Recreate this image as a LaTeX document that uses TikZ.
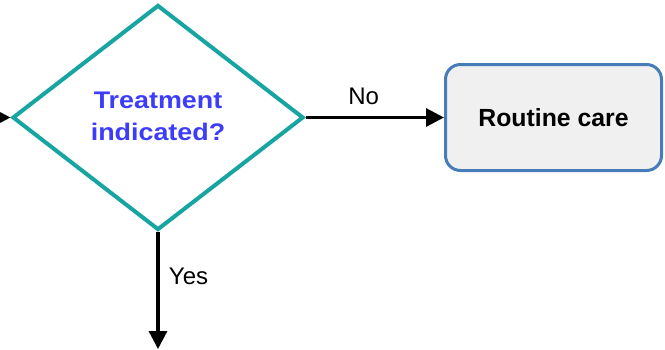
\documentclass[tikz,border=0pt]{standalone}
\usepackage{fontspec}
\setmainfont{Liberation Sans}
\usetikzlibrary{shapes.geometric,arrows.meta}
\definecolor{tealline}{RGB}{22,165,160}
\definecolor{boxline}{RGB}{70,125,185}
\definecolor{boxfill}{RGB}{240,240,240}
\definecolor{asktext}{RGB}{60,60,250}
\begin{document}
\begin{tikzpicture}[x=1pt,y=1pt,yscale=-1,xscale=1,
	decision/.style={diamond,draw=tealline,line width=4pt,inner sep=0pt,minimum width=291pt,minimum height=225pt},
	endbox/.style={draw=boxline,fill=boxfill,line width=3pt,rounded corners=15pt,minimum width=216pt,minimum height=106pt},
	flow/.style={line width=3.2pt,-{Triangle[length=18pt,width=18pt]}},
	flowlabel/.style={font=\fontsize{24}{28}\selectfont}]
	\useasboundingbox (0,0) rectangle (665,349);
	\node[decision] (decide) at (158,117.5) {};
	\node[align=center,text=asktext,font=\fontsize{24}{32}\selectfont\bfseries\addfontfeature{FakeStretch=1.12}] (ask) at (158,116.5) {Treatment\\indicated?};
	\node[endbox,font=\fontsize{24.8}{30}\selectfont\bfseries] (care) at (553.5,117.5) {Routine care};
	\coordinate (start) at (0,117.5);
	\coordinate (down) at (158,349);
	\draw[flow] (start) -- (decide.west);
	\draw[flow] (decide.east) -- (care.west) node[pos=0.42,above=8pt,flowlabel] {No};
	\draw[flow] (decide.south) -- (down) node[pos=0.38,right=6pt,flowlabel] {Yes};
\end{tikzpicture}
\end{document}
